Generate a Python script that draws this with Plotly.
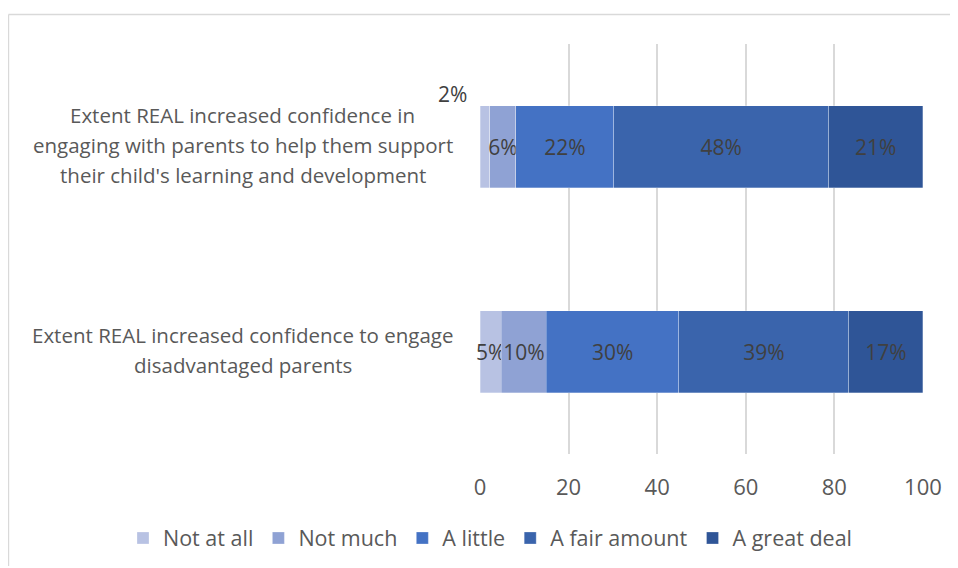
import plotly.graph_objects as go

categories = [
    ["Extent REAL increased confidence in",
     "engaging with parents to help them support",
     "their child's learning and development"],
    ["Extent REAL increased confidence to engage",
     "disadvantaged parents"],
]
series_names = ["Not at all", "Not much", "A little", "A fair amount", "A great deal"]
values = {
    "Not at all": [2.2, 4.8],
    "Not much": [5.9, 10.2],
    "A little": [22.1, 29.9],
    "A fair amount": [48.5, 38.4],
    "A great deal": [21.3, 16.7],
}
labels = {
    "Not at all": ["2%", "5%"],
    "Not much": ["6%", "10%"],
    "A little": ["22%", "30%"],
    "A fair amount": ["48%", "39%"],
    "A great deal": ["21%", "17%"],
}
x_ticks = [0, 20, 40, 60, 80, 100]
colors = ["#B8C2E3", "#8FA2D4", "#4472C4", "#3A64AC", "#2F5597"]

FONT = "Open Sans"
OFF = 8  # page body margin
W, H = 958 - OFF, 568 - OFF
L, R, T, B = 480 - OFF, 35, 44 - OFF, 114
pw, ph = W - L - R, H - T - B

fig = go.Figure()
for name, col in zip(series_names, colors):
    txt = list(labels[name])
    if name == "Not at all":
        txt[0] = ""  # placed outside as in the reference
    fig.add_trace(go.Bar(
        y=list(range(len(categories))), x=values[name], name=name, orientation="h",
        marker=dict(color=col, line=dict(color="rgba(255,255,255,0.35)", width=0.8)),
        text=txt, textposition="inside", insidetextanchor="middle", textangle=0,
        constraintext="none",
        textfont=dict(family=FONT, size=21, color="#404040"),
        width=0.4, hoverinfo="skip", cliponaxis=False,
    ))

# outside label for the small first segment
fig.add_annotation(x=0, y=0, xref="x", yref="y", text=labels["Not at all"][0],
                   showarrow=False, xanchor="right", xshift=-11, yshift=53,
                   font=dict(family=FONT, size=21, color="#404040"))

# category labels, centered lines, 30px line spacing
LS = 30
for i, lines in enumerate(categories):
    n = len(lines)
    for j, line in enumerate(lines):
        fig.add_annotation(x=(243 - OFF - L) / pw, y=i, xref="paper", yref="y", text=line,
                           showarrow=False, xanchor="center", yanchor="middle",
                           yshift=((n - 1) / 2 - j) * LS + 2,
                           font=dict(family=FONT, size=20.5, color="#595959"))

# chart border (left and top edges)
ytop = (H - B - (14.5 - OFF)) / ph
xl = (8 - OFF - L) / pw + 0.001
fig.add_shape(type="line", xref="paper", yref="paper",
              x0=xl, x1=(W + 20 - L) / pw, y0=ytop, y1=ytop,
              line=dict(color="#D9D9D9", width=1.5))
fig.add_shape(type="line", xref="paper", yref="paper",
              x0=xl, x1=xl, y0=ytop, y1=(H - B - (566 - OFF)) / ph,
              line=dict(color="#D9D9D9", width=1.5))

fig.update_layout(
    width=W, height=H,
    margin=dict(l=L, r=R, t=T, b=B, autoexpand=False),
    barmode="stack", bargap=0.6,
    paper_bgcolor="white", plot_bgcolor="white",
    uniformtext=dict(mode=False),
    xaxis=dict(range=[0, 100.01], tickvals=x_ticks, showgrid=True, gridcolor="#D9D9D9", gridwidth=1.5,
               zeroline=False, showline=False, ticks="", ticklabelstandoff=18,
               tickfont=dict(family=FONT, size=22, color="#595959"), automargin=False),
    yaxis=dict(range=[1.5, -0.5], showticklabels=False, showgrid=False, zeroline=False,
               showline=False, ticks="", automargin=False),
    legend=dict(orientation="h", x=(123 - OFF - L) / pw, xanchor="left",
                y=(H - B - (538 - OFF)) / ph, yanchor="middle",
                font=dict(family=FONT, size=21.5, color="#595959"), traceorder="normal",
                itemwidth=30, bgcolor="rgba(0,0,0,0)"),
    showlegend=True,
)
fig.write_html("out.html")
